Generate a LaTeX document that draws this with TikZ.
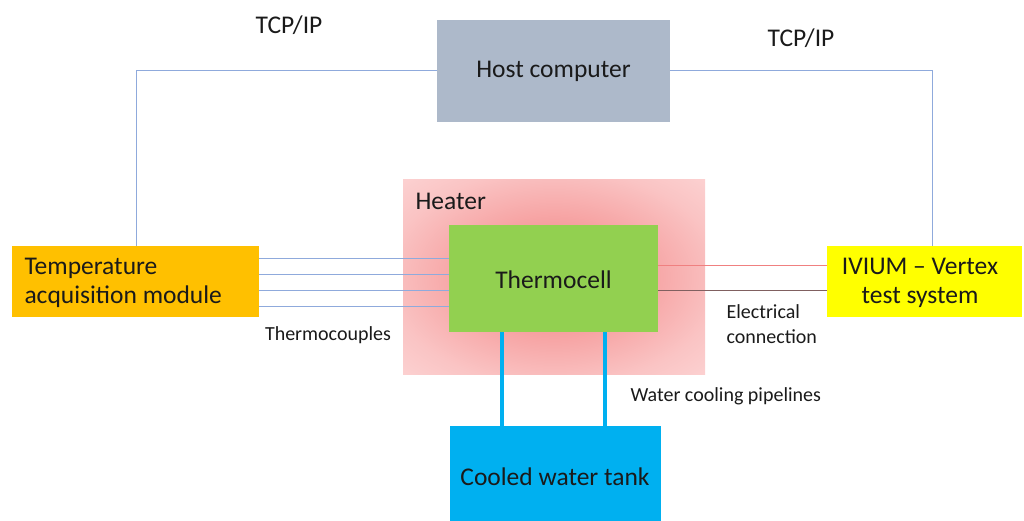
\documentclass[tikz,border=0pt]{standalone}
\usepackage{fontspec}
\setmainfont{Carlito}
\definecolor{hostc}{HTML}{ADB9CA}
\definecolor{tempc}{HTML}{FFC000}
\definecolor{cellc}{HTML}{92D050}
\definecolor{ivc}{HTML}{FFFF00}
\definecolor{tankc}{HTML}{00B0F0}
\definecolor{linec}{HTML}{8FAADC}
\definecolor{redl}{HTML}{F08080}
\definecolor{darkl}{HTML}{806060}
\definecolor{txt}{HTML}{1A1A1A}
\definecolor{h0}{HTML}{F38686}
\definecolor{h1}{HTML}{F6A0A0}
\definecolor{h2}{HTML}{FAC4C4}
\definecolor{h3}{HTML}{FDD8D8}
\pgfdeclareradialshading{heatshade}{\pgfpoint{0bp}{0bp}}{color(0bp)=(h0); color(14bp)=(h1); color(28bp)=(h2); color(40bp)=(h3); color(50bp)=(h3)}
\begin{document}
\begin{tikzpicture}[x=1pt,y=-1pt,
  big/.style={font=\fontsize{25.5}{29.5}\selectfont,text=txt},
  small/.style={font=\fontsize{20}{24.5}\selectfont,text=txt},
  wire/.style={linec,line width=0.9pt},
  pipe/.style={tankc,line width=3.5pt}]
\useasboundingbox (0,0) rectangle (1024,521);
% heater
\shade[shading=heatshade] (403,180) rectangle (705,374);
\node[anchor=west,big] (heatlbl) at (412,201) {Heater};
% boxes
\fill[hostc] (437,20) rectangle (670,122);
\node[big] (host) at (553.5,71) {Host computer};
\coordinate (hostW) at (437,70);
\coordinate (hostE) at (670,70);
\fill[tempc] (12,246) rectangle (259,317);
\node[anchor=west,align=left,big] (temp) at (21,283) {Temperature\\acquisition module};
\fill[cellc] (449,225) rectangle (658,332);
\node[big] (cell) at (553.5,280) {Thermocell};
\fill[ivc] (827,246) rectangle (1022,317);
\node[big,align=center] (iv) at (920,283) {IVIUM -- Vertex\\test system};
\fill[tankc] (450,426) rectangle (661,521);
\node[big] (tank) at (555,477) {Cooled water tank};
% TCP/IP links
\coordinate (tl) at (136,246);
\coordinate (tr) at (932,246);
\draw[wire] (tl) |- (hostW);
\draw[wire] (hostE) -| (tr);
\node[big] (tcp1) at (289,25) {TCP/IP};
\node[big] (tcp2) at (801,38) {TCP/IP};
% thermocouples
\foreach \y in {258,274,290,306}{
  \draw[wire] (259,\y) -- (449,\y);
}
\node[small] (tclbl) at (328,335) {Thermocouples};
% electrical
\draw[redl,line width=0.9pt] (658,265) -- (827,265);
\draw[darkl,line width=0.9pt] (658,290) -- (827,290);
\node[small,anchor=west,align=left] (ellbl) at (723,324) {Electrical\\connection};
% pipes
\draw[pipe] (502,332) -- (502,426);
\draw[pipe] (605,332) -- (605,426);
\node[small,anchor=west] (wlbl) at (627,396) {Water cooling pipelines};
\end{tikzpicture}
\end{document}
